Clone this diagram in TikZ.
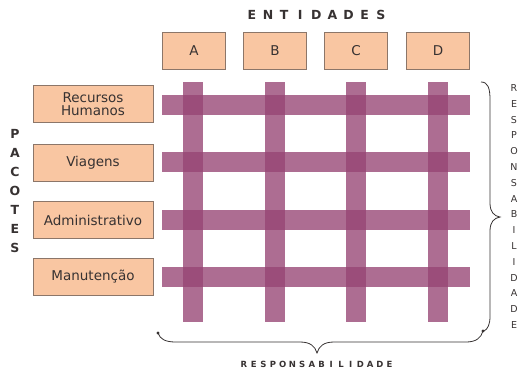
\documentclass[tikz,border=0pt]{standalone}
\usepackage{fontspec}
\setmainfont{DejaVu Sans}
\definecolor{boxfill}{RGB}{249,198,162}
\definecolor{boxline}{RGB}{140,118,105}
\definecolor{txt}{RGB}{55,50,50}
\definecolor{bar}{RGB}{150,68,115}
\begin{document}
\begin{tikzpicture}[x=1pt,y=-1pt,
  pbox/.style={draw=boxline,fill=boxfill,line width=0.8pt,minimum width=120pt,minimum height=37pt,inner sep=1pt,align=center,text=txt,font=\fontsize{13.5}{14}\selectfont},
  ebox/.style={draw=boxline,fill=boxfill,line width=0.8pt,minimum width=63pt,minimum height=37pt,inner sep=1pt,text=txt,font=\fontsize{13.5}{14}\selectfont},
  hbar/.style={fill=bar,opacity=0.78},
  brc/.style={draw=txt,line width=0.8pt},
  lett/.style={inner sep=0pt,text=txt}]
\useasboundingbox (0,0) rectangle (526,373);
% entity boxes
\node[ebox] (A) at (194,51) {A};
\node[ebox] (B) at (275,51) {B};
\node[ebox] (C) at (356,51) {C};
\node[ebox] (D) at (438,51) {D};
% package boxes
\node[pbox] (rh) at (93,104) {Recursos\\[-1pt]Humanos};
\node[pbox] (vi) at (93,162.5) {Viagens};
\node[pbox] (ad) at (93,220) {Administrativo};
\node[pbox] (ma) at (93,276.5) {Manutenção};
% bars
\foreach \yy in {105,162,220,277} \fill[hbar] (162,\yy-10) rectangle (470,\yy+10);
\foreach \xx in {193,275,356,438} \fill[hbar] (\xx-10,82) rectangle (\xx+10,322);
% ENTIDADES
\foreach \c [count=\i from 0] in {E,N,T,I,D,A,D,E,S}
  \node[lett,font=\bfseries\fontsize{12.5}{13}\selectfont] (ent\i) at (252+16.1*\i,15) {\c};
% PACOTES
\foreach \c [count=\i from 0] in {P,A,C,O,T,E,S}
  \node[lett,font=\bfseries\fontsize{12.5}{13}\selectfont] (pac\i) at (15,134+19*\i) {\c};
% RESPONSABILIDADE vertical
\foreach \c [count=\i from 0] in {R,E,S,P,O,N,S,A,B,I,L,I,D,A,D,E}
  \node[lett,font=\fontsize{9.5}{10}\selectfont] (rv\i) at (514,88+15.8*\i) {\c};
% RESPONSABILIDADE horizontal
\foreach \c [count=\i from 0] in {R,E,S,P,O,N,S,A,B,I,L,I,D,A,D,E}
  \node[lett,font=\bfseries\fontsize{8.5}{9}\selectfont] (rh\i) at (244+9.7*\i,364) {\c};
% braces
\coordinate (rt) at (481,82);
\coordinate (rb) at (484,331);
\coordinate (bl) at (158,333);
\coordinate (br) at (483,331);
\draw[brc] (rt) .. controls (488,82) and (490,88) .. (490,100)
  -- (490,203) .. controls (490,212) and (494,216) .. (500,217)
  .. controls (494,218) and (490,222) .. (490,231)
  -- (490,316) .. controls (490,324) and (488,329) .. (rb);
\draw[brc] (bl) .. controls (160,339) and (165,342) .. (176,342)
  -- (300,342) .. controls (310,342) and (315,346) .. (317,353)
  .. controls (319,346) and (324,342) .. (334,342)
  -- (466,342) .. controls (476,342) and (481,338) .. (br);
\fill[txt] (bl) circle (1.6);
\fill[txt] (br) circle (1.6);
\end{tikzpicture}
\end{document}
